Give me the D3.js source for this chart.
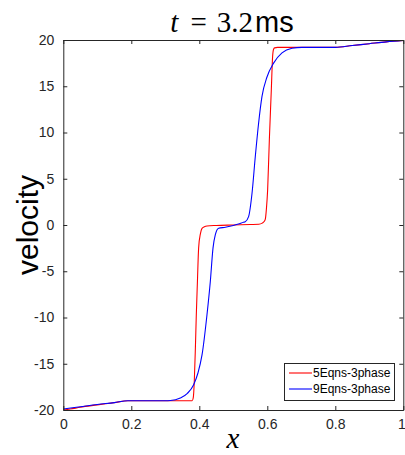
<!DOCTYPE html>
<html><head><meta charset="utf-8">
<script src="https://cdn.jsdelivr.net/npm/d3@7"></script>
<style>body{margin:0;background:#fff}svg{display:block}</style>
</head><body>
<svg id="c" width="405" height="455"></svg>
<script>
const xTicks = [0, 0.2, 0.4, 0.6, 0.8, 1];
const xTickLabels = ["0", "0.2", "0.4", "0.6", "0.8", "1"];
const yTicks = [-20, -15, -10, -5, 0, 5, 10, 15, 20];
const yTickLabels = ["-20", "-15", "-10", "-5", "0", "5", "10", "15", "20"];
const seriesNames = ["5Eqns-3phase", "9Eqns-3phase"];

const redX = [0, 0.02, 0.05, 0.1, 0.15, 0.19, 0.25, 0.3, 0.35, 0.379, 0.3822, 0.3853, 0.3885, 0.3912, 0.3945, 0.398, 0.4035, 0.408, 0.415, 0.4226, 0.45, 0.5, 0.55, 0.575, 0.585, 0.59, 0.594, 0.5975, 0.601, 0.606, 0.6118, 0.6156, 0.6185, 0.6215, 0.63, 0.7, 0.8, 0.85, 0.9, 0.95, 1.0];
const redY = [-20, -19.9, -19.7, -19.45, -19.2, -19.0, -19.0, -19.0, -19.0, -19.0, -18.7, -16.9, -13.3, -9.7, -6.1, -2.5, -0.9, -0.36, -0.18, -0.1, -0.05, 0.0, 0.05, 0.08, 0.2, 0.35, 0.6, 1.8, 3.8, 9.2, 14.6, 18.2, 19.0, 19.15, 19.2, 19.2, 19.2, 19.4, 19.6, 19.8, 19.95];

const blueX = [0, 0.05, 0.1, 0.15, 0.19, 0.25, 0.3, 0.315, 0.344, 0.365, 0.383, 0.396, 0.408, 0.4226, 0.4324, 0.4403, 0.447, 0.4568, 0.4765, 0.5, 0.515, 0.53, 0.535, 0.545, 0.555, 0.5647, 0.5744, 0.5844, 0.5991, 0.6185, 0.6432, 0.6726, 0.702, 0.8, 0.85, 0.9, 0.95, 1.0];
const blueY = [-19.9, -19.65, -19.4, -19.2, -19.0, -19.0, -19.0, -18.98, -18.7, -18.2, -17.3, -16.0, -14.05, -9.7, -6.1, -2.5, -1.08, -0.36, -0.25, -0.05, 0.1, 0.3, 0.35, 0.9, 3.4, 7.4, 11.0, 13.9, 16.0, 17.5, 18.6, 19.1, 19.2, 19.2, 19.4, 19.6, 19.8, 19.95];

const colors = ["#ff0000", "#0000ff"];

const svg = d3.select("#c");
const L = 63.3, R = 403.3, T = 40, B = 410;
const x = d3.scaleLinear().domain([0, 1]).range([L, R]);
const y = d3.scaleLinear().domain([-20, 20]).range([B, T]);
const axisColor = "#262626";
const tickFont = "'Liberation Sans', Arial, sans-serif";

svg.append("clipPath").attr("id", "clip").append("rect")
  .attr("x", L).attr("y", T).attr("width", R - L).attr("height", B - T);

const line = d3.line().x(d => x(d[0])).y(d => y(d[1])).curve(d3.curveMonotoneX);
const series = [d3.zip(redX, redY), d3.zip(blueX, blueY)];
const g = svg.append("g").attr("clip-path", "url(#clip)");
series.forEach((s, i) => {
  g.append("path").datum(s).attr("d", line)
    .attr("fill", "none").attr("stroke", colors[i]).attr("stroke-width", 1.1);
});

function styleAxis(sel) {
  sel.selectAll("path").attr("stroke", axisColor);
  sel.selectAll("line").attr("stroke", axisColor);
  sel.selectAll("text").attr("fill", "#262626").style("font-family", tickFont).style("font-size", "14px");
}
const xb = svg.append("g").attr("transform", `translate(0,${B})`)
  .call(d3.axisBottom(x).tickValues(xTicks).tickFormat((d, i) => xTickLabels[i]).tickSizeInner(-4).tickSizeOuter(0).tickPadding(9));
styleAxis(xb);
xb.selectAll(".tick text").filter(d => d === 1).attr("dx", "-2px");
const xt = svg.append("g").attr("transform", `translate(0,${T})`)
  .call(d3.axisTop(x).tickValues(xTicks).tickFormat("").tickSizeInner(-4).tickSizeOuter(0));
styleAxis(xt);
const yl = svg.append("g").attr("transform", `translate(${L},0)`)
  .call(d3.axisLeft(y).tickValues(yTicks).tickFormat((d, i) => yTickLabels[i]).tickSizeInner(-4).tickSizeOuter(0).tickPadding(9));
styleAxis(yl);
const yr = svg.append("g").attr("transform", `translate(${R},0)`)
  .call(d3.axisRight(y).tickValues(yTicks).tickFormat("").tickSizeInner(-4).tickSizeOuter(0));
styleAxis(yr);

// title
const title = svg.append("text").attr("x", 232).attr("y", 32).attr("text-anchor", "middle")
  .style("font-size", "29px").attr("fill", "#000");
title.append("tspan").style("font-family", "'Liberation Serif', serif").style("font-style", "italic").text("t");
title.append("tspan").attr("dx", 12).style("font-family", "'Liberation Serif', serif").text("=");
title.append("tspan").attr("dx", 10).style("font-family", "'Liberation Serif', serif").text("3.2");
title.append("tspan").attr("dx", 2).style("font-family", "'Liberation Sans', Arial, sans-serif").text("ms");

// axis labels
svg.append("text").attr("x", 233).attr("y", 448).attr("text-anchor", "middle")
  .style("font-family", "'Liberation Serif', serif").style("font-style", "italic").style("font-size", "29px")
  .text("x");
svg.append("text").attr("transform", "translate(38,225) rotate(-90)").attr("text-anchor", "middle")
  .style("font-family", "'Liberation Sans', Arial, sans-serif").style("font-size", "30px").attr("fill", "#000")
  .text("velocity");

// legend
const lg = svg.append("g");
lg.append("rect").attr("x", 284.5).attr("y", 363.5).attr("width", 110).attr("height", 37)
  .attr("fill", "#fff").attr("stroke", axisColor).attr("stroke-width", 1);
seriesNames.forEach((n, i) => {
  const yy = 373 + i * 16;
  lg.append("line").attr("x1", 289).attr("x2", 312).attr("y1", yy).attr("y2", yy)
    .attr("stroke", colors[i]).attr("stroke-width", 1.1);
  lg.append("text").attr("x", 313).attr("y", yy).attr("dy", "0.35em")
    .style("font-family", tickFont).style("font-size", "12px").attr("fill", "#000").text(n);
});
</script>
</body></html>
